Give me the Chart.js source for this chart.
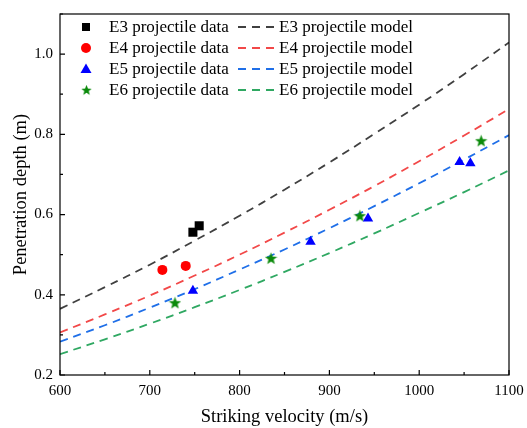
<!DOCTYPE html>
<html>
<head>
<meta charset="utf-8">
<script src="https://cdn.jsdelivr.net/npm/chart.js@4.4.0/dist/chart.umd.min.js"></script>
<style>
  html, body { margin: 0; padding: 0; background: #fff; }
  #wrap { width: 527px; height: 428px; }
</style>
</head>
<body>
<div id="wrap"><canvas id="chart"></canvas></div>
<script>
// measured points (striking velocity m/s, penetration depth m)
var e3Data = [[748, 0.556], [755, 0.572]];
var e4Data = [[714, 0.462], [740, 0.472]];
var e5Data = [[748, 0.410], [879, 0.532], [943, 0.590], [1045, 0.731], [1057, 0.728]];
var e6Data = [[728, 0.380], [835, 0.491], [934, 0.597], [1069, 0.784]];

// model curves
var modelV  = [600, 650, 700, 750, 800, 850, 900, 950, 1000, 1050, 1100];
var e3Model = [0.365, 0.419, 0.475, 0.535, 0.597, 0.662, 0.730, 0.801, 0.874, 0.950, 1.029];
var e4Model = [0.306, 0.351, 0.398, 0.448, 0.500, 0.555, 0.612, 0.671, 0.733, 0.797, 0.863];
var e5Model = [0.283, 0.324, 0.368, 0.414, 0.463, 0.513, 0.566, 0.621, 0.678, 0.737, 0.798];
var e6Model = [0.252, 0.289, 0.328, 0.369, 0.412, 0.457, 0.504, 0.553, 0.604, 0.656, 0.710];

var xTicks = [600, 700, 800, 900, 1000, 1100];
var yTicks = [0.2, 0.4, 0.6, 0.8, 1.0];

var serif = 'Liberation Serif';

function pts(arr) {
    return arr.map(function (p) { return {x: p[0], y: p[1]}; });
}
function curve(ys) {
    return modelV.map(function (v, i) { return {x: v, y: ys[i]}; });
}

// filled five point star for the E6 markers
function makeStar(size, color) {
    var c = document.createElement('canvas');
    c.width = size; c.height = size;
    var g = c.getContext('2d');
    var cx = size / 2, cy = size / 2 + 0.5, R = size / 2, r = R * 0.42;
    g.beginPath();
    for (var i = 0; i < 10; i++) {
        var rad = i % 2 ? r : R;
        var a = -Math.PI / 2 + i * Math.PI / 5;
        g.lineTo(cx + rad * Math.cos(a), cy + rad * Math.sin(a));
    }
    g.closePath();
    g.fillStyle = color;
    g.fill();
    return c;
}
var starImg = makeStar(13, '#0b8a0b');

var lineCols = ['#404040', '#f24848', '#1f6fe8', '#2fa862'];
var dash = [8, 6];

function dataSet(label, arr, style, color, radius) {
    return {
        label: label, data: pts(arr), pointStyle: style,
        backgroundColor: color, borderColor: color, borderWidth: 0,
        pointRadius: radius, showLine: false
    };
}
function modelSet(label, ys, color) {
    return {
        label: label, data: curve(ys), showLine: true, pointRadius: 0,
        borderColor: color, borderWidth: 1.8, borderDash: dash,
        tension: 0.4, fill: false
    };
}

var datasets = [
    dataSet('E3 projectile data', e3Data, 'rect', '#000000', 6.4),
    dataSet('E4 projectile data', e4Data, 'circle', '#ff0000', 5),
    dataSet('E5 projectile data', e5Data, 'triangle', '#0000ff', 6),
    dataSet('E6 projectile data', e6Data, starImg, '#0b8a0b', 6),
    modelSet('E3 projectile model', e3Model, lineCols[0]),
    modelSet('E4 projectile model', e4Model, lineCols[1]),
    modelSet('E5 projectile model', e5Model, lineCols[2]),
    modelSet('E6 projectile model', e6Model, lineCols[3])
];

// frame, inward ticks and the two column legend
var framePlugin = {
    id: 'frame',
    afterDatasetsDraw: function (chart) {
        var ctx = chart.ctx, a = chart.chartArea;
        var xs = chart.scales.x, ys = chart.scales.y;
        ctx.save();
        ctx.strokeStyle = '#000';
        ctx.lineWidth = 1.2;
        ctx.setLineDash([]);
        ctx.strokeRect(a.left, a.top, a.right - a.left, a.bottom - a.top);
        ctx.beginPath();
        for (var v = 600; v <= 1100; v += 50) {
            var px = xs.getPixelForValue(v);
            var len = (v % 100 === 0) ? 5 : 3;
            ctx.moveTo(px, a.bottom); ctx.lineTo(px, a.bottom - len);
        }
        for (var k = 2; k <= 11; k++) {
            var py = ys.getPixelForValue(k / 10);
            var l2 = (k % 2 === 0) ? 5 : 3;
            ctx.moveTo(a.left, py); ctx.lineTo(a.left + l2, py);
        }
        ctx.stroke();
        ctx.restore();
    },
    afterDraw: function (chart) {
        var ctx = chart.ctx;
        var rowY = [27, 48, 69, 90];
        ctx.save();
        ctx.font = '17px "' + serif + '"';
        ctx.textBaseline = 'middle';
        ctx.fillStyle = '#000';
        for (var i = 0; i < 4; i++) {
            var d = chart.data.datasets[i], m = chart.data.datasets[i + 4];
            var y = rowY[i], mx = 86;
            ctx.fillStyle = d.backgroundColor;
            ctx.beginPath();
            if (i === 0) {
                ctx.rect(mx - 4, y - 4, 8, 8);
                ctx.fill();
            } else if (i === 1) {
                ctx.arc(mx, y, 5, 0, Math.PI * 2);
                ctx.fill();
            } else if (i === 2) {
                ctx.moveTo(mx, y - 5.5); ctx.lineTo(mx + 5.5, y + 4); ctx.lineTo(mx - 5.5, y + 4);
                ctx.closePath();
                ctx.fill();
            } else {
                ctx.drawImage(starImg, mx - 5, y - 5.5, 11, 11);
            }
            ctx.fillStyle = '#000';
            ctx.fillText(d.label, 109, y + 1);
            ctx.strokeStyle = m.borderColor;
            ctx.lineWidth = 1.8;
            ctx.setLineDash(dash);
            ctx.beginPath();
            ctx.moveTo(238, y); ctx.lineTo(274, y);
            ctx.stroke();
            ctx.setLineDash([]);
            ctx.fillText(m.label, 279, y + 1);
        }
        ctx.restore();
    }
};

new Chart(document.getElementById('chart'), {
    type: 'scatter',
    data: {datasets: datasets},
    plugins: [framePlugin],
    options: {
        responsive: true,
        maintainAspectRatio: false,
        animation: false,
        events: [],
        layout: {padding: {top: 14, right: 18, left: 0, bottom: 0}},
        plugins: {legend: {display: false}, tooltip: {enabled: false}},
        scales: {
            x: {
                type: 'linear', min: 600, max: 1100,
                afterFit: function (s) { s.height = 53; s.paddingRight = 0; s.paddingLeft = 0; },
                afterBuildTicks: function (s) { s.ticks = xTicks.map(function (v) { return {value: v}; }); },
                ticks: {color: '#000', font: {family: serif, size: 15}, padding: 7, maxRotation: 0,
                        callback: function (v) { return String(v); }},
                grid: {display: false, drawTicks: false},
                border: {display: false},
                title: {display: true, text: 'Striking velocity (m/s)', color: '#000',
                        font: {family: serif, size: 18.5}, padding: {top: 0, bottom: 0}}
            },
            y: {
                type: 'linear', min: 0.2, max: 1.1,
                afterFit: function (s) { s.width = 60; s.paddingTop = 0; s.paddingBottom = 0; },
                afterBuildTicks: function (s) { s.ticks = yTicks.map(function (v) { return {value: v}; }); },
                ticks: {color: '#000', font: {family: serif, size: 15}, padding: 7,
                        callback: function (v) { return Number(v).toFixed(1); }},
                grid: {display: false, drawTicks: false},
                border: {display: false},
                title: {display: true, text: 'Penetration depth (m)', color: '#000',
                        font: {family: serif, size: 18.5}, padding: {top: 10, bottom: 0}}
            }
        }
    }
});
</script>
</body>
</html>
